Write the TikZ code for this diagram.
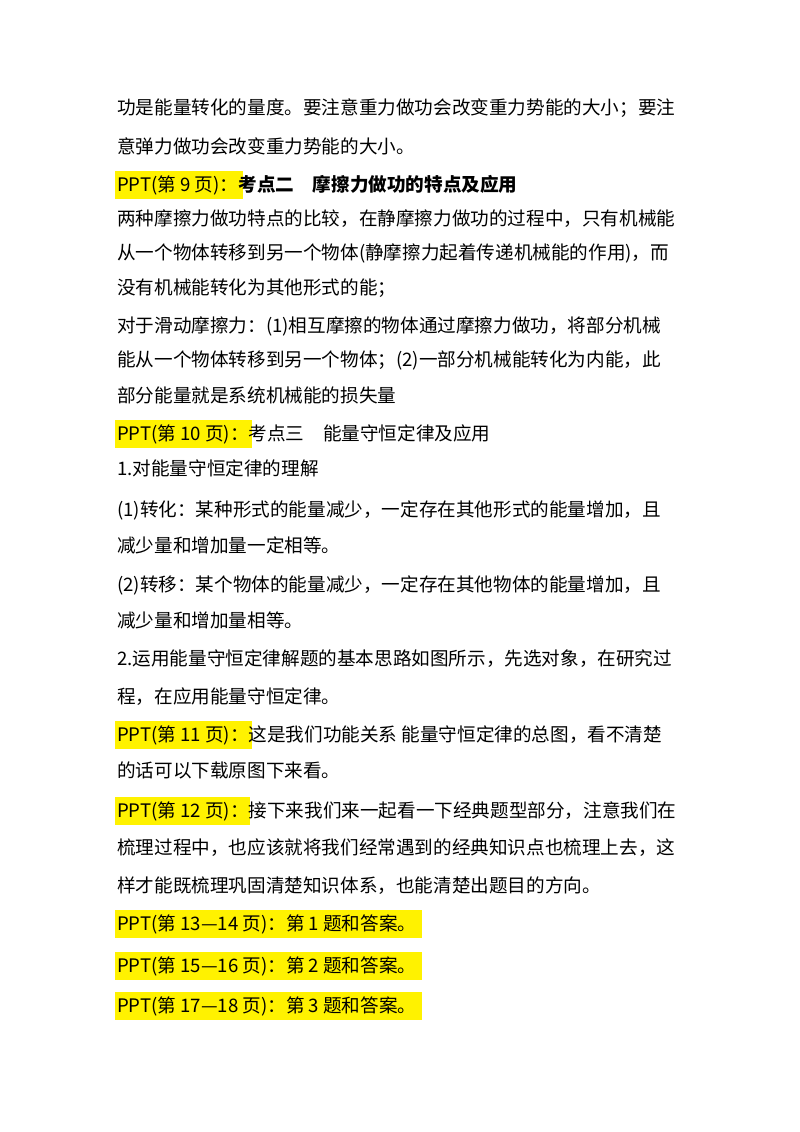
\documentclass[tikz,border=0pt]{standalone}
\usepackage{fontspec}
\setmainfont{Noto Sans CJK SC}
\newfontfamily\cjkb{Noto Sans CJK SC Bold}
\begin{document}
\begin{tikzpicture}[x=1pt,y=-1pt,
  ln/.style={anchor=west,inner sep=0pt,font=\fontsize{18.6pt}{20pt}\selectfont},
  hl/.style={fill=yellow,draw=none}]
\useasboundingbox[fill=white] (0,0) rectangle (800,1132);
% highlights
\fill[hl] (115,171) rectangle (243,199);
\fill[hl] (115,420) rectangle (252,448);
\fill[hl] (115,721) rectangle (252,749);
\fill[hl] (115,797) rectangle (250,825);
\fill[hl] (115,910) rectangle (422,938);
\fill[hl] (115,952) rectangle (422,980);
\fill[hl] (115,992) rectangle (422,1020);
\node[ln] (l1) at (117,108) {功是能量转化的量度。要注意重力做功会改变重力势能的大小；要注};
\node[ln] (l2) at (117,146) {意弹力做功会改变重力势能的大小。};
\node[ln] (l3) at (117,185) {PPT(第 9 页)：{\bfseries\cjkb 考点二　摩擦力做功的特点及应用}};
\node[ln] (l4) at (117,219) {两种摩擦力做功特点的比较，在静摩擦力做功的过程中，只有机械能};
\node[ln] (l5) at (117,253) {从一个物体转移到另一个物体(静摩擦力起着传递机械能的作用)，而};
\node[ln] (l6) at (117,288) {没有机械能转化为其他形式的能；};
\node[ln] (l7) at (117,326) {对于滑动摩擦力：(1)相互摩擦的物体通过摩擦力做功，将部分机械};
\node[ln] (l8) at (117,360) {能从一个物体转移到另一个物体；(2)一部分机械能转化为内能，此};
\node[ln] (l9) at (117,395) {部分能量就是系统机械能的损失量};
\node[ln] (l10) at (117,434) {PPT(第 10 页)：考点三　能量守恒定律及应用};
\node[ln] (l11) at (117,468) {1.对能量守恒定律的理解};
\node[ln] (l12) at (117,510) {(1)转化：某种形式的能量减少，一定存在其他形式的能量增加，且};
\node[ln] (l13) at (117,545) {减少量和增加量一定相等。};
\node[ln] (l14) at (117,585) {(2)转移：某个物体的能量减少，一定存在其他物体的能量增加，且};
\node[ln] (l15) at (117,620) {减少量和增加量相等。};
\node[ln] (l16) at (117,659) {2.运用能量守恒定律解题的基本思路如图所示，先选对象，在研究过};
\node[ln] (l17) at (117,697) {程，在应用能量守恒定律。};
\node[ln] (l18) at (117,735) {PPT(第 11 页)：这是我们功能关系 能量守恒定律的总图，看不清楚};
\node[ln] (l19) at (117,770) {的话可以下载原图下来看。};
\node[ln] (l20) at (117,811) {PPT(第 12 页)：接下来我们来一起看一下经典题型部分，注意我们在};
\node[ln] (l21) at (117,848) {梳理过程中，也应该就将我们经常遇到的经典知识点也梳理上去，这};
\node[ln] (l22) at (117,886) {样才能既梳理巩固清楚知识体系，也能清楚出题目的方向。};
\node[ln] (l23) at (117,924) {PPT(第 13—14 页)：第 1 题和答案。};
\node[ln] (l24) at (117,966) {PPT(第 15—16 页)：第 2 题和答案。};
\node[ln] (l25) at (117,1006) {PPT(第 17—18 页)：第 3 题和答案。};
\end{tikzpicture}
\end{document}
